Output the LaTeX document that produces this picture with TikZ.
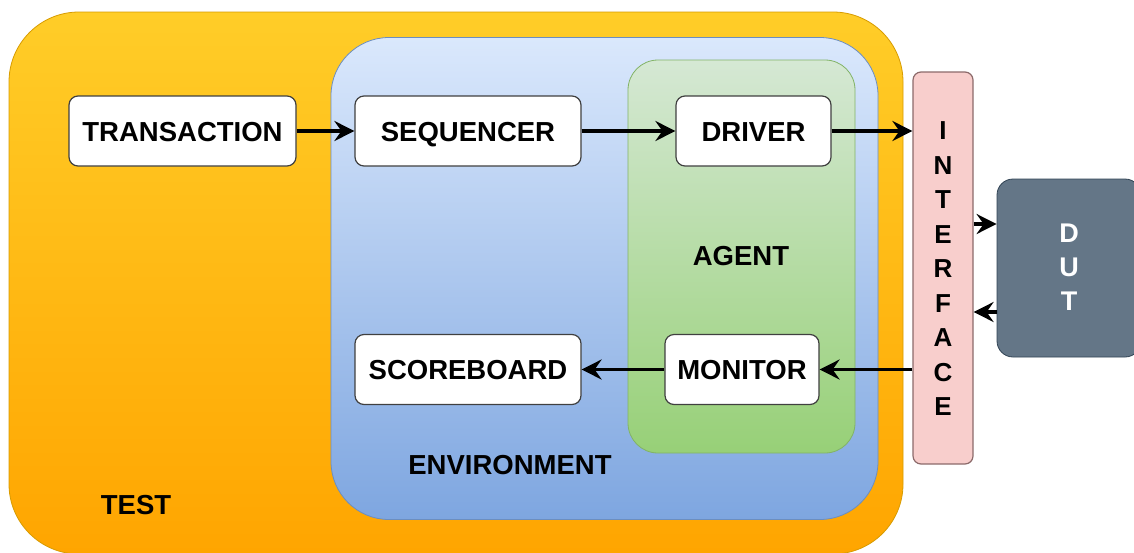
\documentclass[tikz,border=0pt]{standalone}
\usepackage{fontspec}
\setmainfont{Liberation Sans}
\usetikzlibrary{arrows.meta,positioning}
\definecolor{testtop}{HTML}{FFCD28}
\definecolor{testbot}{HTML}{FFA500}
\definecolor{testline}{HTML}{D79B00}
\definecolor{envtop}{HTML}{DAE8FC}
\definecolor{envbot}{HTML}{7EA6E0}
\definecolor{envline}{HTML}{6C8EBF}
\definecolor{agtop}{HTML}{D5E8D4}
\definecolor{agbot}{HTML}{97D077}
\definecolor{agline}{HTML}{82B366}
\definecolor{iffill}{HTML}{F8CECC}
\definecolor{ifline}{HTML}{8C6A6A}
\definecolor{dutfill}{HTML}{647687}
\definecolor{dutline}{HTML}{314354}
\tikzset{
  blk/.style={draw=black!75, line width=1.2pt, fill=white, rounded corners=9pt,
    minimum height=70pt, inner sep=0pt, text height=20pt, text depth=0pt,
    font=\fontsize{27.5}{30}\selectfont\bfseries},
  lbl/.style={font=\fontsize{27.5}{30}\selectfont\bfseries, inner sep=0pt},
  arr/.style={line width=3.4pt, -{Stealth[length=20pt,width=20pt,inset=7pt]}},
}
\begin{document}
\begin{tikzpicture}[x=1pt,y=-1pt]
\useasboundingbox (0,0) rectangle (1134,552);
% containers
\node[draw=testline, line width=0.8pt, rounded corners=70pt, top color=testtop, bottom color=testbot,
  minimum width=894pt, minimum height=542pt, inner sep=0pt] (test) at (456,283) {};
\node[draw=envline, line width=0.8pt, rounded corners=58pt, top color=envtop, bottom color=envbot,
  minimum width=547pt, minimum height=482pt, inner sep=0pt] (env) at (604.5,278.5) {};
\node[draw=agline, line width=0.8pt, rounded corners=30pt, top color=agtop, bottom color=agbot,
  minimum width=227pt, minimum height=393pt, inner sep=0pt] (agent) at (741.5,256.5) {};
\node[draw=ifline, line width=1.2pt, fill=iffill, rounded corners=8pt,
  minimum width=60pt, minimum height=392pt, inner sep=0pt] (iface) at (943,268) {};
\node[draw=dutline, line width=0.8pt, fill=dutfill, rounded corners=16pt,
  minimum width=144pt, minimum height=178pt, inner sep=0pt] (dut) at (1069,268) {};
% labels
\node[lbl] (testlbl) at (136,505) {TEST};
\node[lbl] (envlbl) at (510,465) {ENVIRONMENT};
\node[lbl] (aglbl) at (741,256) {AGENT};
\node[lbl, align=center, font=\fontsize{26}{34.5}\selectfont\bfseries] (iflbl) at (943,269)
  {I\\N\\T\\E\\R\\F\\A\\C\\E};
\node[lbl, align=center, text=white, font=\fontsize{27}{34}\selectfont\bfseries] (dutlbl) at (1069,267)
  {D\\U\\T};
% blocks
\node[blk, minimum width=227pt] (trans) at (182.5,131) {TRANSACTION};
\node[blk, minimum width=226pt] (seq) at (468,131) {SEQUENCER};
\node[blk, minimum width=155pt] (drv) at (753.5,131) {DRIVER};
\node[blk, minimum width=226pt] (sb) at (468,369.5) {SCOREBOARD};
\node[blk, minimum width=154pt] (mon) at (742,369.5) {MONITOR};
% connectors
\coordinate (ifin) at (iface.west |- drv.east);
\coordinate (ifmon) at (iface.west |- mon.east);
\coordinate (ifo1) at (iface.east |- 0,224);
\coordinate (duti1) at (dut.west |- 0,224);
\coordinate (ifo2) at (iface.east |- 0,312);
\coordinate (duto2) at (dut.west |- 0,312);
\draw[arr] (trans) -- (seq);
\draw[arr] (seq) -- (drv);
\draw[arr] (drv) -- (ifin);
\draw[arr] (ifo1) -- (duti1);
\draw[arr] (duto2) -- (ifo2);
\draw[arr] (ifmon) -- (mon);
\draw[arr] (mon) -- (sb);
\end{tikzpicture}
\end{document}
